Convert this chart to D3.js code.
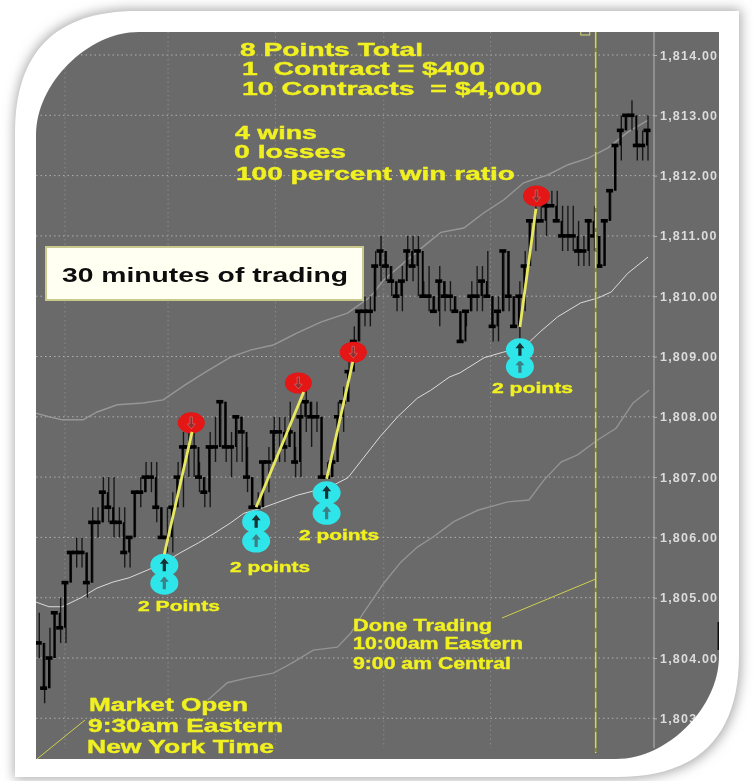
<!DOCTYPE html>
<html>
  <head>
    <meta charset="utf-8">
    <title>30 minutes of trading</title>
    <script src="https://d3js.org/d3.v7.min.js"></script>
    <style>
      body { margin: 0; background: #fff; }
      text { font-family: "Liberation Sans", Arial, sans-serif; }
    </style>
  </head>
  <body>
    <script>
      // price bars in quarter points
      var closes = [1804.25,1803.5,1804,1804.75,1804.5,1805.25,1805.75,1805.75,1805.75,1805.25,1806.25,1806.25,1806.75,1806.5,1806.25,1806.25,1805.75,1806,1806.75,1806.75,1807,1807,1806.5,1806,1806,1806.5,1807,1807.5,1807.5,1807.5,1807,1806.75,1807.5,1807.5,1808.25,1807.5,1807.5,1808,1807.75,1807,1806.5,1806.5,1807.25,1807.25,1807.75,1807.75,1807.5,1807.75,1807.25,1808,1808.25,1808,1808,1807,1807,1807.25,1808,1808.25,1808.75,1809.25,1809.75,1809.75,1809.75,1810.5,1810.75,1810.5,1810.25,1810,1810.25,1810.75,1810.5,1810.75,1810,1810,1809.75,1810.25,1810,1810,1809.75,1809.25,1809.75,1810,1810,1810.25,1810,1809.5,1809.75,1810.75,1810,1809.5,1810,1810.5,1811.25,1811.25,1811.25,1811.5,1811.5,1811.25,1811,1811,1811,1810.75,1810.75,1811.25,1811,1810.5,1811.25,1811.75,1812.5,1812.75,1813,1813,1812.5,1812.5,1812.75];
      var highs = [1804.75,1804.25,1804.5,1804.75,1805,1805.25,1805.75,1806,1806,1805.75,1806.5,1806.5,1807,1807,1807,1806.5,1806.5,1806,1806.75,1807,1807.25,1807.25,1807.25,1806.5,1806.5,1806.75,1807.25,1807.75,1807.75,1807.75,1807.25,1807,1807.75,1808,1808.25,1808.25,1807.75,1808,1808,1807.5,1807,1806.75,1807.25,1807.5,1808,1808,1808,1808.25,1807.5,1808.25,1808.5,1808.25,1808.25,1808,1807.25,1807.5,1808.25,1808.5,1809,1809.5,1809.75,1810,1810,1810.75,1811,1810.75,1810.5,1810.25,1810.5,1811,1811,1811,1810.25,1810.5,1810,1810.5,1810.25,1810.25,1810,1809.75,1809.75,1810.25,1810.5,1810.5,1810.75,1810,1810,1810.75,1810.75,1810,1810.25,1810.75,1811.25,1811.5,1811.5,1811.75,1811.75,1811.75,1811.5,1811.5,1811.5,1811.25,1811,1811.25,1811.5,1811,1811.25,1811.75,1812.5,1813,1813,1813.25,1812.75,1812.75,1813];
      var lows = [1804,1803.25,1803.5,1804,1804.25,1804.25,1805.25,1805.5,1805.5,1805,1805.25,1806,1806.25,1806.25,1806,1806,1805.5,1805.5,1806,1806.5,1806.75,1806.75,1806.25,1806,1805.75,1805.75,1806.5,1806.5,1807,1807,1806.75,1806.5,1806.5,1807.25,1807.5,1807.25,1807,1807.25,1807.25,1806.75,1806.5,1806.5,1806.5,1806.75,1807.25,1807.25,1807.25,1807.5,1807,1807,1807.75,1807.5,1807.75,1807,1807,1807,1807.25,1807.75,1808.25,1808.75,1809.25,1809.5,1809.5,1810,1810.25,1810.25,1810,1809.75,1809.75,1810.5,1810.25,1810,1810,1809.75,1809.75,1809.5,1809.75,1809.75,1809.75,1809.25,1809.5,1809.75,1809.75,1809.75,1810,1809.25,1809.25,1809.75,1809.75,1809.5,1809.25,1809.75,1810.5,1810.75,1811.25,1811,1811.5,1811.25,1810.75,1810.75,1810.75,1810.5,1810.5,1810.5,1810.75,1810.5,1810.5,1811.25,1811.75,1812.25,1812.75,1812.75,1812.25,1812.25,1812.25];

      // moving average and its two bands: bar position, price
      var midBar = [-0.5,2,4.5,8,11,14,17,20.5,23.5,26.5,30,33,36,38.5,42,48.5,54.7,58,61,64,67.3,71,73.5,77,79,83.5,87,91,94,97.3,101.6,104.8,107.3,110.4,114.2];
      var midPrice = [1804.93,1804.85,1804.85,1805,1805.16,1805.26,1805.33,1805.46,1805.58,1805.74,1805.91,1806.07,1806.24,1806.4,1806.49,1806.7,1806.84,1806.99,1807.33,1807.67,1808,1808.31,1808.44,1808.66,1808.73,1808.98,1809.07,1809.16,1809.41,1809.66,1809.89,1809.97,1810.07,1810.38,1810.65];
      var upperBar = [-0.5,2,4.5,8.4,11,14.8,19.6,23.4,27.5,31.3,36,39.9,44,48.5,52.9,57.9,62.2,64.7,68.4,72.9,75.4,79.7,83.4,87.2,90.9,95.4,99.2,103,106.7,110.4,114.2];
      var upperPrice = [1808.06,1808,1807.95,1807.95,1808.08,1808.2,1808.23,1808.28,1808.53,1808.74,1808.99,1809.11,1809.19,1809.39,1809.57,1809.72,1809.99,1810.27,1810.55,1810.88,1811.06,1811.13,1811.38,1811.6,1811.88,1812.01,1812.18,1812.29,1812.46,1812.72,1812.92];
      var lowerBar = [31.7,35.4,39.2,44,47.8,51.5,56,58.5,60.9,64.7,67.9,71,74,77.8,82.3,87.9,91.9,94.7,97.9,101,104.8,108.2,111.4,114.4];
      var lowerPrice = [1803.3,1803.59,1803.67,1803.75,1803.93,1804.13,1804.18,1804.41,1804.75,1805.24,1805.59,1805.84,1806.01,1806.26,1806.45,1806.59,1806.62,1806.95,1807.25,1807.37,1807.62,1807.81,1808.23,1808.44];

      // the four trades
      var entryBar = [23.6,40.8,54,90.2];
      var entryPrice = [1805.72,1806.5,1806.97,1809.49];
      var exitBar = [28.8,49.7,58.9,93.2];
      var exitPrice = [1807.75,1808.41,1808.91,1811.45];
      var sellBar = [28.65,48.7,59,93.3];
      var sellPrice = [1807.9,1808.56,1809.07,1811.66];
      var arrowTop = [1805.54,1806.26,1806.74,1809.11];
      var arrowBottom = [1805.24,1805.94,1806.4,1808.83];

      var priceTicks = [1803,1804,1805,1806,1807,1808,1809,1810,1811,1812,1813,1814];
      var gridBars = [5,24.3,44.4,64.7,84.7,104.4];
      var doneBar = 104.4;

      var width = 754, height = 781;
      var left = 36, right = 719, top_ = 32, bottom = 759;

      var x = d3.scaleLinear().domain([0,114]).range([38.3,647]);
      var y = d3.scaleLinear().domain([1814,1803]).range([55,718.3]);

      var svg = d3.select("body").append("svg")
        .attr("width", width)
        .attr("height", height)
        .style("display", "block");

      // frame shape: only top left and bottom right corners are rounded
      // k is how far the curve handles are pulled towards the corner
      function frame(x0,y0,x1,y1,r,k) {
        var p = d3.path();
        var h = r*(1-k);
        p.moveTo(x0+r,y0);
        p.lineTo(x1,y0);
        p.lineTo(x1,y1-r);
        p.bezierCurveTo(x1,y1-h,x1-h,y1,x1-r,y1);
        p.lineTo(x0,y1);
        p.lineTo(x0,y0+r);
        p.bezierCurveTo(x0,y0+h,x0+h,y0,x0+r,y0);
        p.closePath();
        return p.toString();
      }

      var defs = svg.append("defs");
      defs.append("filter").attr("id","shadow")
        .attr("x","-10%").attr("y","-10%").attr("width","120%").attr("height","120%")
        .append("feGaussianBlur").attr("stdDeviation",6);
      defs.append("filter").attr("id","soft")
        .attr("x","-5%").attr("y","-5%").attr("width","110%").attr("height","110%")
        .append("feGaussianBlur").attr("stdDeviation",0.6);
      defs.append("clipPath").attr("id","inner")
        .append("path").attr("d", frame(left,top_,right,bottom,103,0.5));

      svg.append("path")
        .attr("d", frame(14,9,741,779,122,0.667))
        .attr("fill","#aaa")
        .attr("filter","url(#shadow)");
      svg.append("path")
        .attr("d", frame(15,11,739,777,122,0.667))
        .attr("fill","#fff");

      var chart = svg.append("g")
        .attr("clip-path","url(#inner)")
        .append("g")
          .attr("filter","url(#soft)");

      chart.append("rect")
        .attr("x",left).attr("y",top_)
        .attr("width",right-left).attr("height",bottom-top_)
        .attr("fill","#6a6a6a");
      chart.append("rect")
        .attr("x",717.5).attr("y",622)
        .attr("width",2).attr("height",28)
        .attr("fill","#111");

      // grid
      chart.selectAll(".hgrid").data(priceTicks).enter().append("line")
        .attr("x1",left).attr("x2",654)
        .attr("y1",y).attr("y2",y)
        .attr("stroke","#b0b0b0")
        .attr("stroke-dasharray","1.5 3");
      chart.selectAll(".vgrid").data(gridBars).enter().append("line")
        .attr("x1",x).attr("x2",x)
        .attr("y1",top_).attr("y2",748)
        .attr("stroke","#8a8a8a")
        .attr("stroke-dasharray","1.5 3");

      // axis on the right
      chart.append("line")
        .attr("x1",654).attr("x2",654)
        .attr("y1",top_).attr("y2",748)
        .attr("stroke","#b4b4b4");
      var axis = chart.append("g")
        .attr("transform","translate(654,0)")
        .call(d3.axisRight(y).tickValues(priceTicks).tickFormat(d3.format(",.2f")).tickSize(3).tickPadding(3));
      axis.select(".domain").remove();
      axis.selectAll("line").attr("stroke","#b5b5b5");
      axis.selectAll("text")
        .attr("fill","#dcdcdc")
        .attr("font-size",12.5)
        .attr("font-weight","bold")
        .attr("letter-spacing","1.2px");

      // bands
      function bandLine(bars,prices,color,w) {
        var line = d3.line()
          .x(function(d,i) { return x(bars[i]); })
          .y(function(d) { return y(d); });
        chart.append("path")
          .attr("d", line(prices))
          .attr("fill","none")
          .attr("stroke",color)
          .attr("stroke-width",w);
      }
      bandLine(upperBar,upperPrice,"#979797",1.4);
      bandLine(lowerBar,lowerPrice,"#939393",1.4);
      bandLine(midBar,midPrice,"#e8e8e8",0.9);

      // bars
      var bars = chart.append("g");
      closes.forEach(function(c,i) {
        bars.append("line")
          .attr("x1",x(i)+1).attr("x2",x(i)+1)
          .attr("y1",y(highs[i])).attr("y2",y(lows[i]))
          .attr("stroke","#111")
          .attr("stroke-opacity",0.9)
          .attr("stroke-width",1.4);
        bars.append("line")
          .attr("x1",x(i)).attr("x2",x(i))
          .attr("y1",y(i > 0 ? closes[i-1] : c)).attr("y2",y(c))
          .attr("stroke","#000")
          .attr("stroke-width",1.9);
        bars.append("line")
          .attr("x1",x(i)-3.5).attr("x2",x(i)+3.5)
          .attr("y1",y(c)).attr("y2",y(c))
          .attr("stroke","#000")
          .attr("stroke-width",3.6);
      });

      // the dashed line where trading stopped, with its little flag on top
      chart.append("line")
        .attr("x1",x(doneBar)).attr("x2",x(doneBar))
        .attr("y1",top_).attr("y2",753)
        .attr("stroke","#85873a")
        .attr("stroke-width",2.2);
      chart.append("line")
        .attr("x1",x(doneBar)).attr("x2",x(doneBar))
        .attr("y1",top_).attr("y2",753)
        .attr("stroke","#e8e8a8")
        .attr("stroke-width",1)
        .attr("stroke-dasharray","16 4");
      chart.append("rect")
        .attr("x",x(doneBar)-15).attr("y",top_-4)
        .attr("width",9).attr("height",7)
        .attr("fill","none")
        .attr("stroke","#d8d870");

      // trades
      var arrowUp = "M0,-7L4.5,-1.5L1.6,-1.5L1.6,6L-1.6,6L-1.6,-1.5L-4.5,-1.5Z";
      var arrowDown = "M0,6L4,1L1.3,1L1.3,-6L-1.3,-6L-1.3,1L-4,1Z";

      entryBar.forEach(function(b,i) {
        [arrowBottom[i], arrowTop[i]].forEach(function(p,k) {
          var g = chart.append("g")
            .attr("transform","translate("+x(b)+","+y(p)+")");
          g.append("ellipse")
            .attr("rx",14).attr("ry",11.5)
            .attr("fill","#2fe6ea");
          g.append("path")
            .attr("d",arrowUp)
            .attr("fill",k == 0 ? "#3d7f84" : "#143036");
        });
        var s = chart.append("g")
          .attr("transform","translate("+x(sellBar[i])+","+y(sellPrice[i])+")");
        s.append("ellipse")
          .attr("rx",13.5).attr("ry",10.5)
          .attr("fill","#e41212");
        s.append("path")
          .attr("d",arrowDown)
          .attr("fill","#8a3030")
          .attr("stroke","#e88")
          .attr("stroke-width",0.5);
        chart.append("line")
          .attr("x1",x(b)).attr("y1",y(entryPrice[i]))
          .attr("x2",x(exitBar[i])).attr("y2",y(exitPrice[i]))
          .attr("stroke","#e8e860")
          .attr("stroke-width",2.8);
      });

      // callout lines
      chart.append("line")
        .attr("x1",502).attr("y1",618).attr("x2",x(doneBar)).attr("y2",579)
        .attr("stroke","#d0d050").attr("stroke-width",1);
      chart.append("line")
        .attr("x1",85).attr("y1",720).attr("x2",37).attr("y2",759)
        .attr("stroke","#d0d050").attr("stroke-width",1);

      // yellow notes: text, left, right, baseline, size
      var notes = [
        ["8 Points Total",240,423,56,19],
        ["1  Contract = $400",242,485,75,19],
        ["10 Contracts  = $4,000",242,542,95,19],
        ["4 wins",235,317,139,19],
        ["0 losses",234,346,158,19],
        ["100 percent win ratio",236,515,180,19],
        ["2 Points",138,220,611,15],
        ["2 points",230,310,572,15],
        ["2 points",299,379,540,15],
        ["2 points",492,573,393,15],
        ["Done Trading",353,492,631,17],
        ["10:00am Eastern",353,523,649,17],
        ["9:00 am Central",353,511,669,17],
        ["Market Open",89,248,711,18],
        ["9:30am Eastern",88,283,732,18],
        ["New York Time",87,274,753,18]
      ];
      chart.selectAll(".note").data(notes).enter().append("text")
        .attr("class","note")
        .attr("x",function(d) { return d[1]; })
        .attr("y",function(d) { return d[3]; })
        .attr("textLength",function(d) { return d[2]-d[1]; })
        .attr("lengthAdjust","spacingAndGlyphs")
        .attr("font-size",function(d) { return d[4]; })
        .attr("font-weight","bold")
        .style("white-space","pre")
        .attr("fill","#f0f020")
        .attr("stroke","#f0f020")
        .attr("stroke-width",0.4)
        .text(function(d) { return d[0]; });

      // title box
      chart.append("rect")
        .attr("x",46).attr("y",247)
        .attr("width",317).attr("height",53)
        .attr("fill","#fffff2")
        .attr("stroke","#c9c98c")
        .attr("stroke-width",2);
      chart.append("text")
        .attr("x",62).attr("y",282)
        .attr("textLength",286)
        .attr("lengthAdjust","spacingAndGlyphs")
        .attr("font-size",21)
        .attr("font-weight","bold")
        .attr("fill","#111")
        .text("30 minutes of trading");
    </script>
  </body>
</html>
